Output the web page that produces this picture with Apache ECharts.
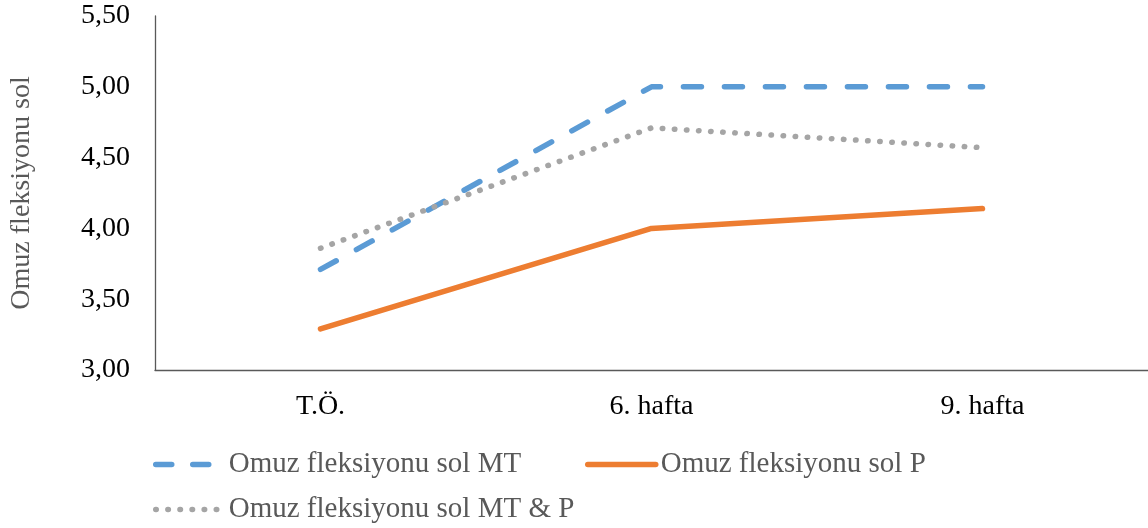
<!DOCTYPE html>
<html>
<head>
<meta charset="utf-8">
<script src="https://cdn.jsdelivr.net/npm/echarts@6/dist/echarts.min.js"></script>
<style>
  html, body { margin: 0; padding: 0; background: #fff; }
  #chart { width: 1148px; height: 528px; }
</style>
</head>
<body>
<div id="chart"></div>
<script>
// Measurement points
const categories = ['T.Ö.', '6. hafta', '9. hafta'];

// Mean scores per group
const seriesMT = [3.71, 5.00, 5.00];
const seriesP = [3.29, 4.00, 4.14];
const seriesMTP = [3.86, 4.71, 4.57];

const seriesNames = ['Omuz fleksiyonu sol MT', 'Omuz fleksiyonu sol P', 'Omuz fleksiyonu sol MT & P'];

// Y axis range
const yMin = 3.0;
const yMax = 5.5;
const yStep = 0.5;
const yAxisName = 'Omuz fleksiyonu sol';

const FONT = '"Liberation Serif", "Times New Roman", serif';
const AXIS_COLOR = '#595959';
const COLORS = ['#5B9BD5', '#ED7D31', '#A5A5A5'];
const LINE_W = 5.5;
const DASH = [18, 23];
const DOT = [0.5, 11.6];

const chart = echarts.init(document.getElementById('chart'));

const legendText = { fontFamily: FONT, fontSize: 29, color: '#595959' };

// one legend block per entry so each can sit in its own slot
function legendEntry(i, left, top, dash) {
  return {
    data: [{
      name: seriesNames[i],
      itemStyle: { opacity: 0 },
      lineStyle: { color: COLORS[i], width: LINE_W, type: dash, cap: 'round' }
    }],
    left: left, top: top, padding: 0,
    itemWidth: 68, itemHeight: 14, itemGap: 0,
    textStyle: legendText
  };
}

chart.setOption({
  animation: false,
  backgroundColor: '#ffffff',
  grid: { left: 155, right: 0, top: 16, bottom: 158, containLabel: false, outerBoundsMode: 'none' },
  legend: [
    legendEntry(0, 153, 450, [16, 21]),
    legendEntry(1, 585, 450, 'solid'),
    legendEntry(2, 153, 495, DOT)
  ],
  xAxis: {
    type: 'category',
    data: categories,
    boundaryGap: true,
    axisLine: { show: true, lineStyle: { color: AXIS_COLOR, width: 1.3 } },
    axisTick: { show: false },
    axisLabel: { fontFamily: FONT, fontSize: 28, color: '#000', margin: 23 },
    splitLine: { show: false }
  },
  yAxis: {
    type: 'value',
    min: yMin,
    max: yMax,
    interval: yStep,
    name: yAxisName,
    nameLocation: 'middle',
    nameGap: 119,
    nameRotate: 90,
    nameTextStyle: { fontFamily: FONT, fontSize: 28, color: '#595959' },
    axisLine: { show: true, lineStyle: { color: AXIS_COLOR, width: 1.3 } },
    axisTick: { show: false },
    splitLine: { show: false },
    axisLabel: {
      fontFamily: FONT, fontSize: 28, color: '#000', margin: 25,
      formatter: v => v.toFixed(2).replace('.', ',')
    }
  },
  series: [
    {
      name: seriesNames[0], type: 'line', data: seriesMT,
      symbol: 'none',
      itemStyle: { color: COLORS[0] },
      lineStyle: { color: COLORS[0], width: LINE_W, type: DASH, cap: 'round', join: 'round' }
    },
    {
      name: seriesNames[1], type: 'line', data: seriesP,
      symbol: 'none',
      itemStyle: { color: COLORS[1] },
      lineStyle: { color: COLORS[1], width: LINE_W, cap: 'round', join: 'round' }
    },
    {
      name: seriesNames[2], type: 'line', data: seriesMTP,
      symbol: 'none',
      itemStyle: { color: COLORS[2] },
      lineStyle: { color: COLORS[2], width: LINE_W, type: DOT, cap: 'round', join: 'round' }
    }
  ]
});
</script>
</body>
</html>
